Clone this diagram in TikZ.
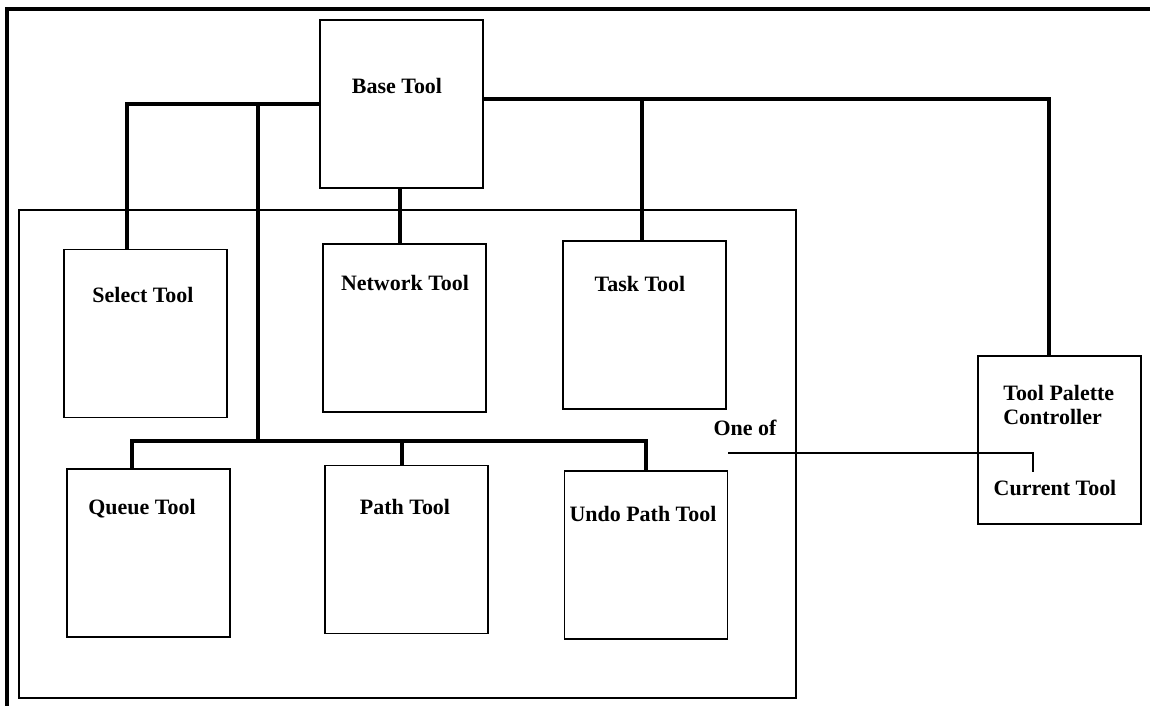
\documentclass[tikz,border=0pt]{standalone}
\usepackage{fontspec}
\setmainfont{Liberation Serif}
\begin{document}
\begin{tikzpicture}[x=0.02cm,y=-0.02cm,
  box/.style={draw, line width=1.1pt, inner sep=0pt, minimum width=3.26cm, minimum height=3.36cm},
  lbl/.style={font=\fontsize{12.5}{15}\selectfont\bfseries, inner sep=0pt},
  bold/.style={line width=1.8pt},
  thinline/.style={line width=0.7pt}]
\useasboundingbox (0,0) rectangle (1150,706);
% outer frame (top and left only)
\coordinate (ftr) at (1150,9);
\coordinate (ftl) at (7,9);
\coordinate (fbl) at (7,706);
\draw[line width=1.8pt] (ftr) -- (ftl) -- (fbl);
% container
\node[draw, line width=1.1pt, inner sep=0pt, minimum width=15.54cm, minimum height=9.76cm] (grp) at (407.5,454) {};
% boxes
\node[box] (base) at (401.5,104) {};
\node[box] (sel) at (145.5,333.5) {};
\node[box] (net) at (404.5,328) {};
\node[box] (task) at (644.5,325) {};
\node[box] (queue) at (148.5,553) {};
\node[box] (path) at (406.5,549.5) {};
\node[box] (undo) at (646,555) {};
\node[box] (tpc) at (1059.5,440) {};
% labels
\node[lbl] (baseT) at (397,86) {Base Tool};
\node[lbl] (selT) at (143,295) {Select Tool};
\node[lbl] (netT) at (405,283) {Network Tool};
\node[lbl] (taskT) at (640,284) {Task Tool};
\node[lbl] (queueT) at (142,509) {Queue Tool};
\node[lbl] (pathT) at (405,507) {Path Tool};
\node[lbl] (undoT) at (643,514) {Undo Path Tool};
\node[lbl, align=left, anchor=west, font=\fontsize{12.5}{14.2}\selectfont\bfseries] (tpcT) at (1003,405) {Tool Palette\\Controller};
\node[lbl] (curT) at (1055,488) {Current Tool};
\node[lbl] (oneT) at (745,428) {One of};
% connectors
\coordinate (rbus) at ([yshift=0.1cm]base.east);
\coordinate (j) at (258,104);
\coordinate (bus) at (258,441);
\draw[bold] (base.west) -| ([xshift=-0.37cm]sel.north);
\draw[bold] (j) -- (bus);
\draw[bold] ([xshift=-0.33cm]queue.north) |- (bus) -| (undo.north);
\draw[bold] ([xshift=-0.09cm]path.north) -- ([xshift=-0.09cm]path.north |- bus);
\draw[bold] ([xshift=-0.03cm]base.south) -- ([xshift=-0.03cm]base.south |- net.north);
\draw[bold] (rbus) -| ([xshift=-0.21cm]tpc.north);
\draw[bold] ([xshift=-0.05cm]task.north) -- ([xshift=-0.05cm]task.north |- rbus);
% "One of" link
\coordinate (onestart) at (728,453);
\coordinate (curend) at (1033,472);
\draw[thinline] (onestart) -| (curend);
\end{tikzpicture}
\end{document}
